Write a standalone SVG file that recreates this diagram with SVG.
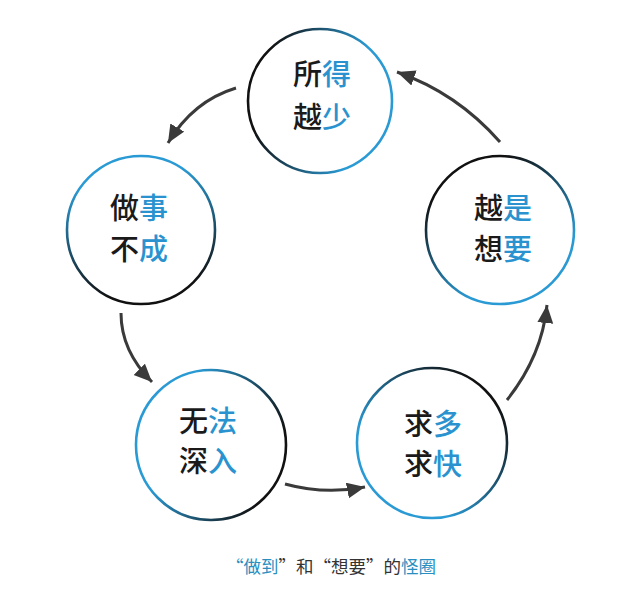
<svg xmlns="http://www.w3.org/2000/svg" width="634" height="597" viewBox="0 0 634 597">
<style>
.ring{fill:none;stroke-width:2.6}
.lbl{font-family:"Noto Sans CJK SC","Noto Sans",sans-serif;font-size:29px;font-weight:500;fill:#1a1a1a;text-anchor:middle}
.b{fill:#2a93cf}
.cap{font-family:"Noto Sans CJK SC","Noto Sans",sans-serif;font-size:17.5px;fill:#333;text-anchor:middle}
.arr{fill:none;stroke:#3a3a3a;stroke-width:3;marker-end:url(#ah)}
</style>
<defs>
<marker id="ah" markerUnits="userSpaceOnUse" markerWidth="20" markerHeight="18" refX="18" refY="8" orient="auto">
<path d="M0,0 L18,8 L0,16 z" fill="#3a3a3a"/>
</marker>
<linearGradient id="g1" x1="0" y1="0.4" x2="1" y2="0.6"><stop offset="0.1" stop-color="#111"/><stop offset="0.75" stop-color="#2a9ad4"/></linearGradient>
<linearGradient id="g2" x1="0.4" y1="0" x2="0.6" y2="1"><stop offset="0.15" stop-color="#2a9ad4"/><stop offset="0.9" stop-color="#111"/></linearGradient>
<linearGradient id="g3" x1="0.2" y1="0" x2="0.8" y2="1"><stop offset="0.15" stop-color="#111"/><stop offset="0.75" stop-color="#2a9ad4"/></linearGradient>
<linearGradient id="g4" x1="0" y1="0.3" x2="1" y2="0.7"><stop offset="0.25" stop-color="#2a9ad4"/><stop offset="0.9" stop-color="#111"/></linearGradient>
<linearGradient id="g5" x1="1" y1="0" x2="0" y2="1"><stop offset="0.15" stop-color="#111"/><stop offset="0.7" stop-color="#2a9ad4"/></linearGradient>
</defs>
<rect width="634" height="597" fill="#fff"/>
<g id="connectors">
<path class="arr" d="M236,88 Q193,101 168,143"/>
<path class="arr" d="M121,313 Q121,351 152,382"/>
<path class="arr" d="M285,484 Q325,495 365,487"/>
<path class="arr" d="M507,400 Q542,356 547,305"/>
<path class="arr" d="M500,142 Q457,93 397,72"/>
</g>
<g id="node-suode">
<circle class="ring" cx="320" cy="101" r="72" stroke="url(#g1)"/>
<text class="lbl" x="322" y="85">所<tspan class="b">得</tspan></text>
<text class="lbl" x="322" y="128">越<tspan class="b">少</tspan></text>
</g>
<g id="node-zuoshi">
<circle class="ring" cx="141" cy="230" r="74" stroke="url(#g2)"/>
<text class="lbl" x="139" y="219">做<tspan class="b">事</tspan></text>
<text class="lbl" x="139" y="260">不<tspan class="b">成</tspan></text>
</g>
<g id="node-yueshi">
<circle class="ring" cx="500" cy="230" r="74" stroke="url(#g3)"/>
<text class="lbl" x="503" y="219">越<tspan class="b">是</tspan></text>
<text class="lbl" x="503" y="260">想<tspan class="b">要</tspan></text>
</g>
<g id="node-wufa">
<circle class="ring" cx="211" cy="445" r="75" stroke="url(#g4)"/>
<text class="lbl" x="208" y="432">无<tspan class="b">法</tspan></text>
<text class="lbl" x="208" y="472">深<tspan class="b">入</tspan></text>
</g>
<g id="node-qiuduo">
<circle class="ring" cx="432" cy="443" r="75" stroke="url(#g5)"/>
<text class="lbl" x="433" y="435">求<tspan class="b">多</tspan></text>
<text class="lbl" x="433" y="475">求<tspan class="b">快</tspan></text>
</g>
<g id="caption">
<text class="cap" x="331" y="573"><tspan fill="#2a8fc0">“做到</tspan>”和“想要”的<tspan fill="#2a8fc0">怪圈</tspan></text>
</g>
</svg>
